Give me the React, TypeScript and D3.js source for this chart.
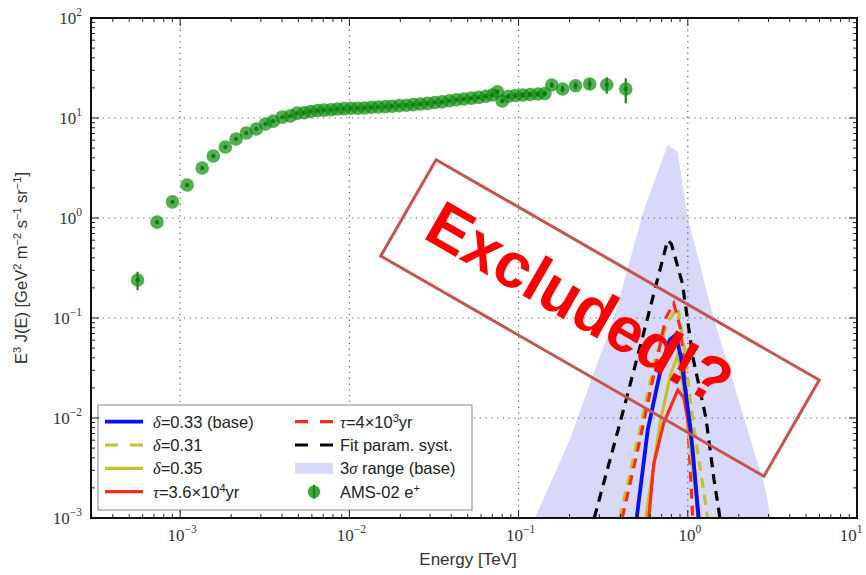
import React from "react";
import * as d3 from "d3";

// AMS-02 positron data (E in TeV, E^3 J(E) in GeV^2 m^-2 s^-1 sr^-1)
const amsEnergy = [
  0.00056, 0.00073, 0.0009, 0.0011, 0.00135, 0.00157, 0.00185, 0.00214, 0.00246, 0.00282,
  0.00319, 0.00355, 0.00401, 0.00448, 0.00492, 0.0054, 0.0059, 0.0065, 0.0071, 0.0078,
  0.0085, 0.0093, 0.0102, 0.0112, 0.0123, 0.0135, 0.0148, 0.0163, 0.0179, 0.0197,
  0.0217, 0.0239, 0.0263, 0.029, 0.032, 0.0353, 0.039, 0.043, 0.0475, 0.0525,
  0.058, 0.064, 0.07, 0.075, 0.08, 0.087, 0.096, 0.106, 0.117, 0.13,
  0.143, 0.157, 0.182, 0.217, 0.263, 0.332, 0.43,
];
const amsFlux = [
  0.24, 0.91, 1.45, 2.14, 3.16, 4.17, 5.13, 6.17, 7.08, 7.76,
  8.7, 9.3, 10.2, 10.5, 11.2, 11.3, 11.6, 11.9, 12.0, 12.1,
  12.3, 12.4, 12.5, 12.5, 12.6, 12.8, 12.9, 13.0, 13.1, 13.3,
  13.4, 13.6, 13.8, 14.0, 14.3, 14.5, 14.9, 15.2, 15.5, 15.8,
  16.1, 16.5, 17.0, 18.3, 14.8, 16.5, 16.8, 17.0, 17.2, 17.4,
  17.6, 21.4, 19.5, 21.0, 21.9, 21.5, 19.5,
];
const amsErr = [
  0.05, 0.03, 0.04, 0.05, 0.06, 0.07, 0.08, 0.09, 0.1, 0.1,
  0.1, 0.1, 0.1, 0.1, 0.1, 0.1, 0.1, 0.1, 0.1, 0.1,
  0.1, 0.1, 0.1, 0.1, 0.1, 0.1, 0.1, 0.1, 0.1, 0.1,
  0.15, 0.15, 0.15, 0.2, 0.2, 0.2, 0.25, 0.3, 0.3, 0.35,
  0.4, 0.5, 0.6, 0.7, 0.7, 0.8, 0.9, 0.9, 1.0, 1.1,
  1.2, 1.4, 1.5, 1.8, 2.5, 4.0, 5.5,
];

// 3 sigma range (base): upper envelope
const bandEnergy = [0.125, 0.2, 0.365, 0.55, 0.76, 0.87, 1.0, 1.42, 2.0, 2.82, 3.1];
const bandUpper = [1e-3, 6e-3, 0.1, 1.2, 5.4, 4.6, 1.0, 0.1, 0.015, 2.2e-3, 1e-3];

// Model curves
const fitSystE = [0.28, 0.4, 0.55, 0.7, 0.76, 0.8, 0.93, 1.07, 1.28, 1.43, 1.55];
const fitSystF = [1e-3, 9.3e-3, 0.072, 0.35, 0.6, 0.55, 0.22, 0.041, 0.01, 2.4e-3, 1e-3];

const tau4e3E = [0.41, 0.506, 0.664, 0.74, 0.826, 0.91, 0.986, 1.07];
const tau4e3F = [1e-3, 4.8e-3, 0.041, 0.1, 0.14, 0.076, 0.015, 1e-3];

const delta031E = [0.396, 0.49, 0.647, 0.77, 0.873, 0.946, 1.07, 1.24, 1.31];
const delta031F = [1e-3, 4.8e-3, 0.041, 0.095, 0.126, 0.054, 9.5e-3, 1.9e-3, 1e-3];

const baseE = [0.499, 0.58, 0.69, 0.78, 0.85, 0.91, 1.04, 1.16];
const baseF = [1e-3, 7.6e-3, 0.03, 0.06, 0.068, 0.041, 7.6e-3, 1e-3];

const delta035E = [0.564, 0.69, 0.79, 0.873, 0.97, 1.15];
const delta035F = [1e-3, 9.5e-3, 0.027, 0.043, 0.015, 1e-3];

const tau36e4E = [0.588, 0.63, 0.72, 0.873, 0.946, 1.07, 1.15];
const tau36e4F = [1e-3, 3.5e-3, 8.9e-3, 0.019, 0.016, 5.1e-3, 1e-3];

const xMajorExps = [-3, -2, -1, 0, 1];
const yMajorExps = [-3, -2, -1, 0, 1, 2];

const W = 866;
const H = 575;
const L = 91, R = 857, T = 18, B = 518;

const x = d3.scaleLog().domain([Math.pow(10, -3.527), 10]).range([L, R]);
const y = d3.scaleLog().domain([1e-3, 100]).range([B, T]);

const zip = (a: number[], b: number[]) => a.map((v, i) => [v, b[i]] as [number, number]);
const line = d3.line<[number, number]>().x((d) => x(d[0])).y((d) => y(d[1]));
const area = d3
  .area<[number, number]>()
  .x((d) => x(d[0]))
  .y0(() => y(1e-3) + 2)
  .y1((d) => y(d[1]));

const BLUE = "#0a10f5";
const RED = "#ff2a18";
const YEL = "#c3c22c";
const BAND = "#d8d9f8";
const GREEN = "#118f11";

const serif = "'Liberation Serif', 'DejaVu Serif', serif";
const sans = "'Liberation Sans', Arial, sans-serif";

function expStr(e: number) {
  return e < 0 ? "\u2212" + Math.abs(e) : String(e);
}

export default function App() {
  const xMinor: number[] = [];
  for (let e = -4; e <= 0; e++) for (let k = 2; k <= 9; k++) {
    const v = k * Math.pow(10, e);
    if (v > x.domain()[0] && v < 10) xMinor.push(v);
  }
  const yMinor: number[] = [];
  for (let e = -3; e <= 1; e++) for (let k = 2; k <= 9; k++) yMinor.push(k * Math.pow(10, e));

  const dash = "10,7";
  const lw = 3.2;

  const legRows = [421.7, 445, 468.3, 491.7];
  const c1h = 105, c1t = 153, c2h = 295, c2t = 340;

  return (
    <svg width={W} height={H} style={{ position: "absolute", left: 0, top: 0, background: "#fff" }}>
      <defs>
        <clipPath id="plotclip">
          <rect x={L} y={T} width={R - L} height={B - T} />
        </clipPath>
      </defs>
      <rect x={0} y={0} width={W} height={H} fill="#fff" />
      <g clipPath="url(#plotclip)">
        <path d={area(zip(bandEnergy, bandUpper)) || ""} fill={BAND} />
        {/* grid */}
        {xMajorExps.filter((e) => e < 1).map((e) => (
          <line key={"gx" + e} x1={x(Math.pow(10, e))} x2={x(Math.pow(10, e))} y1={T} y2={B}
            stroke="#666" strokeWidth={1.2} strokeDasharray="1.3,4.5" />
        ))}
        {yMajorExps.filter((e) => e > -3 && e < 2).map((e) => (
          <line key={"gy" + e} y1={y(Math.pow(10, e))} y2={y(Math.pow(10, e))} x1={L} x2={R}
            stroke="#666" strokeWidth={1.2} strokeDasharray="1.3,4.5" />
        ))}
        <path d={line(zip(fitSystE, fitSystF)) || ""} fill="none" stroke="#000" strokeWidth={lw} strokeDasharray={dash} />
        <path d={line(zip(delta031E, delta031F)) || ""} fill="none" stroke={YEL} strokeWidth={lw} strokeDasharray={dash} />
        <path d={line(zip(tau4e3E, tau4e3F)) || ""} fill="none" stroke={RED} strokeWidth={lw} strokeDasharray={dash} />
        <path d={line(zip(delta035E, delta035F)) || ""} fill="none" stroke={YEL} strokeWidth={lw} />
        <path d={line(zip(tau36e4E, tau36e4F)) || ""} fill="none" stroke={RED} strokeWidth={lw} />
        <path d={line(zip(baseE, baseF)) || ""} fill="none" stroke={BLUE} strokeWidth={3.8} />
        {/* data */}
        {amsEnergy.map((e, i) => (
          <g key={"d" + i}>
            <line x1={x(e)} x2={x(e)} y1={y(amsFlux[i] + amsErr[i])} y2={y(amsFlux[i] - amsErr[i])}
              stroke={GREEN} strokeWidth={2.2} />
            <circle cx={x(e)} cy={y(amsFlux[i])} r={6.8} fill={GREEN} fillOpacity={0.72} />
            <circle cx={x(e)} cy={y(amsFlux[i])} r={2.2} fill="#0b6a0b" fillOpacity={0.7} />
          </g>
        ))}
      </g>

      {/* Legend */}
      <rect x={98} y={405} width={374} height={105} fill="#fff" stroke="#9a9a9a" strokeWidth={1.2} />
      <g fontFamily={sans} fontSize={16.5} fill="#222">
        <line x1={c1h} x2={c1h + 38} y1={legRows[0]} y2={legRows[0]} stroke={BLUE} strokeWidth={3.8} />
        <line x1={c1h} x2={c1h + 38} y1={legRows[1]} y2={legRows[1]} stroke={YEL} strokeWidth={lw} strokeDasharray="13,12" />
        <line x1={c1h} x2={c1h + 38} y1={legRows[2]} y2={legRows[2]} stroke={YEL} strokeWidth={lw} />
        <line x1={c1h} x2={c1h + 38} y1={legRows[3]} y2={legRows[3]} stroke={RED} strokeWidth={lw} />
        <line x1={c2h} x2={c2h + 38} y1={legRows[0]} y2={legRows[0]} stroke={RED} strokeWidth={lw} strokeDasharray="13,12" />
        <line x1={c2h} x2={c2h + 38} y1={legRows[1]} y2={legRows[1]} stroke="#000" strokeWidth={lw} strokeDasharray="13,12" />
        <rect x={c2h} y={legRows[2] - 5.5} width={38} height={11} fill={BAND} />
        <line x1={c2h + 19} x2={c2h + 19} y1={legRows[3] - 7} y2={legRows[3] + 7} stroke={GREEN} strokeWidth={2.2} />
        <circle cx={c2h + 19} cy={legRows[3]} r={6.3} fill={GREEN} fillOpacity={0.8} />

        <text x={c1t} y={legRows[0] + 6}>
          <tspan fontFamily={serif} fontStyle="italic">δ</tspan>=0.33 (base)
        </text>
        <text x={c1t} y={legRows[1] + 6}>
          <tspan fontFamily={serif} fontStyle="italic">δ</tspan>=0.31
        </text>
        <text x={c1t} y={legRows[2] + 6}>
          <tspan fontFamily={serif} fontStyle="italic">δ</tspan>=0.35
        </text>
        <text x={c1t} y={legRows[3] + 6}>
          <tspan fontFamily={serif} fontStyle="italic">τ</tspan>=3.6×10<tspan dy={-6} fontSize={11}>4</tspan><tspan dy={6}>yr</tspan>
        </text>
        <text x={c2t} y={legRows[0] + 6}>
          <tspan fontFamily={serif} fontStyle="italic">τ</tspan>=4×10<tspan dy={-6} fontSize={11}>3</tspan><tspan dy={6}>yr</tspan>
        </text>
        <text x={c2t} y={legRows[1] + 6}>Fit param. syst.</text>
        <text x={c2t} y={legRows[2] + 6}>
          3<tspan fontFamily={serif} fontStyle="italic">σ</tspan> range (base)
        </text>
        <text x={c2t} y={legRows[3] + 6}>
          AMS-02 e<tspan dy={-6} fontSize={11}>+</tspan>
        </text>
      </g>

      {/* Frame and ticks */}
      <g stroke="#222" strokeWidth={1}>
        {xMajorExps.map((e) => {
          const px = x(Math.pow(10, e));
          return (
            <g key={"tx" + e}>
              <line x1={px} x2={px} y1={B} y2={B - 8} />
              <line x1={px} x2={px} y1={T} y2={T + 8} />
            </g>
          );
        })}
        {xMinor.map((v, i) => (
          <g key={"mx" + i}>
            <line x1={x(v)} x2={x(v)} y1={B} y2={B - 4} />
            <line x1={x(v)} x2={x(v)} y1={T} y2={T + 4} />
          </g>
        ))}
        {yMajorExps.map((e) => {
          const py = y(Math.pow(10, e));
          return (
            <g key={"ty" + e}>
              <line x1={L} x2={L + 8} y1={py} y2={py} />
              <line x1={R} x2={R - 8} y1={py} y2={py} />
            </g>
          );
        })}
        {yMinor.map((v, i) => (
          <g key={"my" + i}>
            <line x1={L} x2={L + 4} y1={y(v)} y2={y(v)} />
            <line x1={R} x2={R - 4} y1={y(v)} y2={y(v)} />
          </g>
        ))}
      </g>
      <rect x={L} y={T} width={R - L} height={B - T} fill="none" stroke="#111" strokeWidth={2} />

      {/* tick labels */}
      <g fontFamily={serif} fontSize={17} fill="#333">
        {yMajorExps.map((e) => (
          <text key={"ly" + e} x={L - 9} y={y(Math.pow(10, e)) + 6} textAnchor="end">
            10<tspan dy={-8} fontSize={11.5}>{expStr(e)}</tspan>
          </text>
        ))}
        {xMajorExps.map((e) => (
          <text key={"lx" + e} x={e === 1 ? 851 : x(Math.pow(10, e)) + 2} y={541} textAnchor="middle">
            10<tspan dy={-8} fontSize={11.5}>{expStr(e)}</tspan>
          </text>
        ))}
      </g>

      {/* axis titles */}
      <text x={468} y={565} textAnchor="middle" fontFamily={sans} fontSize={17} fill="#333">
        Energy [TeV]
      </text>
      <text transform="translate(27,268) rotate(-90)" textAnchor="middle" fontFamily={sans} fontSize={16.5} fill="#333">
        E<tspan dy={-6} fontSize={11}>3</tspan><tspan dy={6}> J(E) [GeV</tspan><tspan dy={-6} fontSize={11}>2</tspan>
        <tspan dy={6}> m</tspan><tspan dy={-6} fontSize={11}>−2</tspan><tspan dy={6}> s</tspan>
        <tspan dy={-6} fontSize={11}>−1</tspan><tspan dy={6}> sr</tspan><tspan dy={-6} fontSize={11}>−1</tspan>
        <tspan dy={6}>]</tspan>
      </text>

      {/* Stamp */}
      <g transform="translate(600,318) rotate(29.9)">
        <rect x={-221} y={-55.5} width={442} height={111} fill="none" stroke="#c4554c" strokeWidth={3} />
        <text x={-25} y={-3} textAnchor="middle" dominantBaseline="central" fontFamily={sans}
          fontWeight="bold" fontSize={64} fill="#ff0000" textLength={340} lengthAdjust="spacingAndGlyphs">
          Excluded!?
        </text>
      </g>
    </svg>
  );
}
